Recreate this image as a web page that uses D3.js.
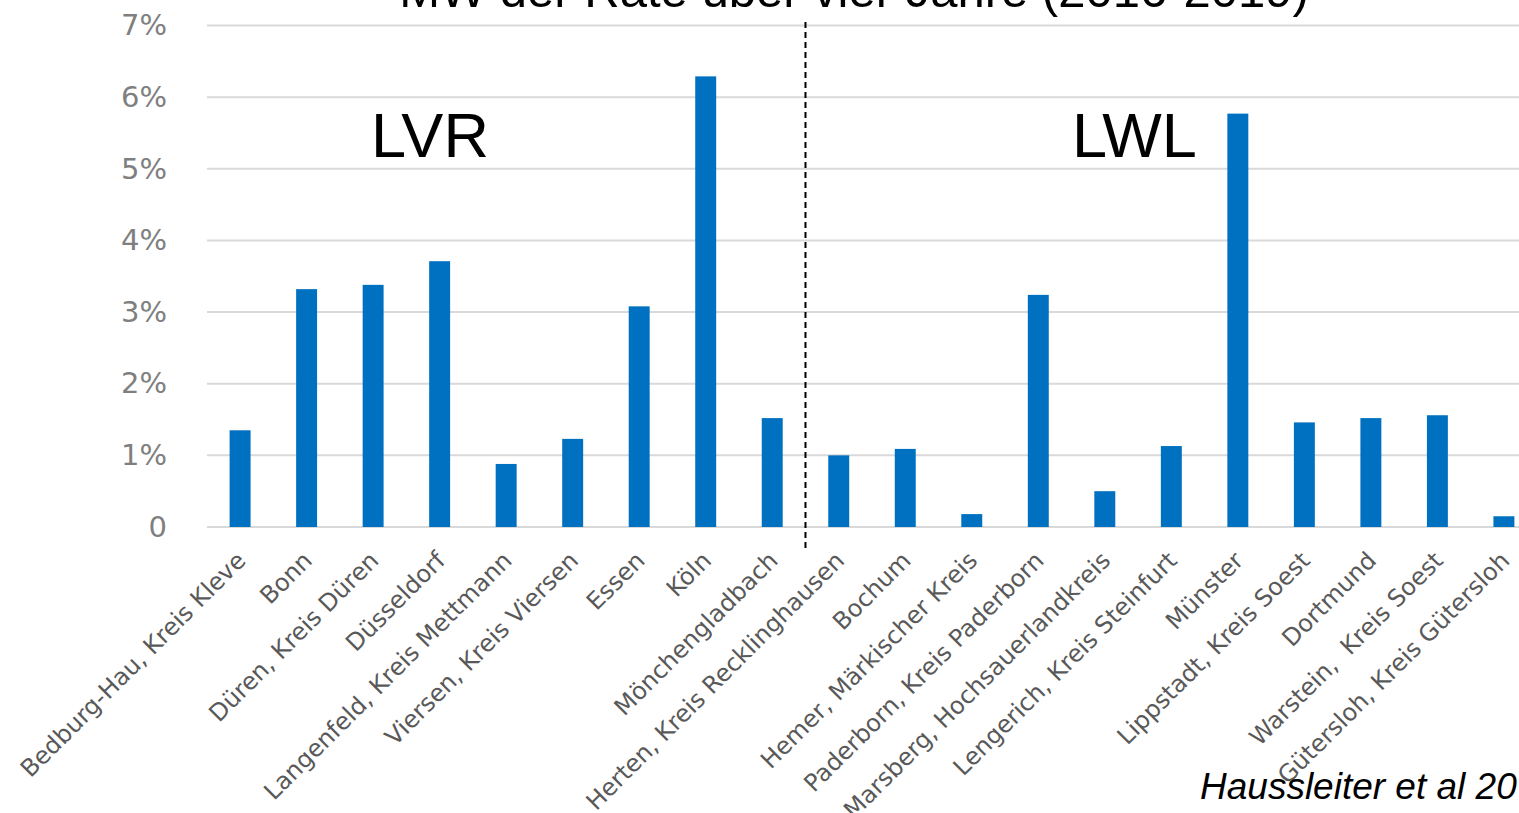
<!DOCTYPE html>
<html>
<head>
<meta charset="utf-8">
<script src="https://cdn.jsdelivr.net/npm/d3@7"></script>
<style>
    body { margin: 0; background: #fff; overflow: hidden; }
    svg { display: block; }
</style>
</head>
<body>
<svg id="chart" width="1519" height="813"></svg>
<script>
// clinic locations, LVR first, then LWL
const sites = [
    "Bedburg-Hau, Kreis Kleve", "Bonn", "Düren, Kreis Düren", "Düsseldorf",
    "Langenfeld, Kreis Mettmann", "Viersen, Kreis Viersen", "Essen", "Köln",
    "Mönchengladbach", "Herten, Kreis Recklinghausen", "Bochum",
    "Hemer, Märkischer Kreis", "Paderborn, Kreis Paderborn",
    "Marsberg, Hochsauerlandkreis", "Lengerich, Kreis Steinfurt", "Münster",
    "Lippstadt, Kreis Soest", "Dortmund", "Warstein,  Kreis Soest",
    "Gütersloh, Kreis Gütersloh"
];
// mean rate over four years, in %
const rates = [1.35, 3.32, 3.38, 3.71, 0.88, 1.23, 3.08, 6.29, 1.52,
    1.00, 1.09, 0.18, 3.24, 0.50, 1.13, 5.77, 1.46, 1.52, 1.56, 0.15];
const yTicks = [0, 1, 2, 3, 4, 5, 6, 7];
const groups = [
    {name: "LVR", first: 0, last: 8},
    {name: "LWL", first: 9, last: 19}
];
const title = "MW der Rate über vier Jahre (2016-2019)";
const source = "Haussleiter et al 20";

let svg = d3.select("#chart");

// plot runs off the right edge like the original slide
let x = d3.scaleBand()
    .domain(sites)
    .range([207, 1537])
    .paddingInner(0.685)
    .paddingOuter(0.34);

let y = d3.scaleLinear()
    .domain([0, 7])
    .range([527, 25.5]);

// gridlines
svg.append("g")
    .selectAll("line")
    .data(yTicks)
    .enter()
    .append("line")
    .attr("x1", 207)
    .attr("x2", 1537)
    .attr("y1", d => y(d))
    .attr("y2", d => y(d))
    .attr("stroke", "#d9d9d9")
    .attr("stroke-width", 2);

// y axis labels
let yAxis = d3.axisLeft(y)
    .tickValues(yTicks)
    .tickSize(0)
    .tickPadding(0)
    .tickFormat(d => d === 0 ? "0" : d + "%");

svg.append("g")
    .attr("transform", "translate(167,0)")
    .call(yAxis)
    .call(g => g.select(".domain").remove())
    .selectAll("text")
    .attr("fill", "#7f7f7f")
    .style("font-family", "DejaVu Sans, Verdana, sans-serif")
    .style("font-size", "29px");

// bars
svg.append("g")
    .selectAll("rect")
    .data(rates)
    .enter()
    .append("rect")
    .attr("x", (d, i) => x(sites[i]))
    .attr("y", d => y(d))
    .attr("width", x.bandwidth())
    .attr("height", d => y(0) - y(d))
    .attr("fill", "#0070c0");

// rotated category labels
svg.append("g")
    .selectAll("text")
    .data(sites)
    .enter()
    .append("text")
    .attr("transform", d => "translate(" + (x(d) + x.bandwidth() / 2 + 7) + ",562) rotate(-45)")
    .attr("text-anchor", "end")
    .attr("fill", "#595959")
    .style("font-family", "DejaVu Sans, Verdana, sans-serif")
    .style("font-size", "24px")
    .style("white-space", "pre")
    .text(d => d);

// divider between the two regions
let step = x.step();
let splitX = x(sites[groups[1].first]) - step * x.paddingInner() / 2;
svg.append("line")
    .attr("x1", splitX)
    .attr("x2", splitX)
    .attr("y1", 22)
    .attr("y2", 549)
    .attr("stroke", "#000")
    .attr("stroke-width", 2)
    .attr("stroke-dasharray", "6,4");

// region names
svg.append("g")
    .selectAll("text")
    .data(groups)
    .enter()
    .append("text")
    .attr("x", d => d.name === "LVR" ? 371 : 1072)
    .attr("y", 157)
    .attr("fill", "#000")
    .style("font-family", "Liberation Sans, Arial, sans-serif")
    .style("font-size", "63px")
    .text(d => d.name);

// title, cut at the top
svg.append("text")
    .attr("x", 854)
    .attr("y", 7)
    .attr("text-anchor", "middle")
    .attr("fill", "#000")
    .style("font-family", "Liberation Sans, Arial, sans-serif")
    .style("font-size", "49px")
    .text(title);

// source note
svg.append("text")
    .attr("x", 1200)
    .attr("y", 799)
    .attr("fill", "#000")
    .style("font-family", "Liberation Sans, Arial, sans-serif")
    .style("font-style", "italic")
    .style("font-size", "37px")
    .text(source);
</script>
</body>
</html>
